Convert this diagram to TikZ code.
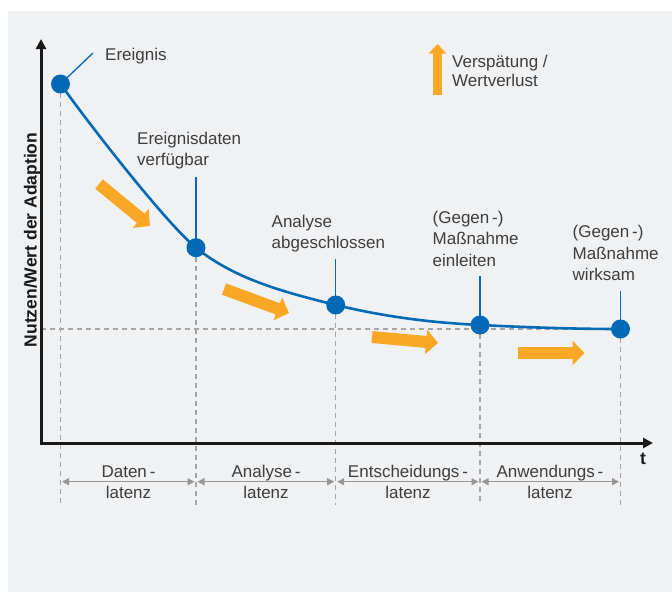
\documentclass[tikz,border=0pt]{standalone}
\usepackage{fontspec}
\setmainfont{Liberation Sans}
\usetikzlibrary{arrows.meta}
\definecolor{bg}{RGB}{240,241,243}
\definecolor{myblue}{RGB}{0,106,183}
\definecolor{myorange}{RGB}{249,168,38}
\definecolor{txt}{RGB}{62,62,62}
\definecolor{dgray}{RGB}{165,165,165}
\definecolor{bgray}{RGB}{150,150,150}
\begin{document}
\begin{tikzpicture}[x=1pt,y=-1pt,
  lbl/.style={font=\fontsize{17}{21.6}\selectfont, text=txt, align=left, inner sep=0pt, anchor=base west},
  clbl/.style={font=\fontsize{17}{21.6}\selectfont, text=txt, align=center, inner sep=0pt, anchor=base},
  dashline/.style={draw=dgray, line width=1.1pt, dash pattern=on 5pt off 4pt},
  curve/.style={draw=myblue, line width=2.6pt},
  leader/.style={draw=myblue, line width=1.3pt},
  dot/.style={circle, fill=myblue, inner sep=0pt, minimum size=19pt},
  oarrow/.style={draw=myorange, line width=12pt, -{Triangle[length=12pt,width=24pt]}},
  axisline/.style={draw=black!90, line width=3pt, line join=miter, {Triangle[length=10pt,width=10pt]}-{Triangle[length=10pt,width=10pt]}},
  bracket/.style={draw=bgray, line width=1.5pt, {Triangle[length=7pt,width=7pt]}-{Triangle[length=7pt,width=7pt]}, shorten <=1.5pt, shorten >=1.5pt},
  boldlbl/.style={font=\bfseries\fontsize{17.5}{20}\selectfont, text=black!90, inner sep=0pt}
]
\fill[white] (0,0) rectangle (672,592);
\useasboundingbox (0,0) rectangle (672,592);
\fill[bg] (8,11) rectangle (672,592);

% points
\coordinate (p1) at (60.5,84);
\coordinate (p2) at (196,247.7);
\coordinate (p3) at (335.7,305);
\coordinate (p4) at (480,325);
\coordinate (p5) at (620.5,329);
% bottom ends of dashed lines
\coordinate (b1) at (60.5,505);
\coordinate (b2) at (196,505);
\coordinate (b3) at (335.7,505);
\coordinate (b4) at (480,505);
\coordinate (b5) at (620.5,505);
% horizontal reference
\coordinate (h0) at (41,329);
% axes
\coordinate (o) at (41,443);
\coordinate (ytip) at (41,39);
\coordinate (xtip) at (653,443);

% dashed lines
\draw[dashline] (p1) -- (b1);
\draw[dashline] (p2) -- (b2);
\draw[dashline] (p3) -- (b3);
\draw[dashline] (p4) -- (b4);
\draw[dashline] (p5) -- (b5);
\draw[dashline] (h0) -- (p5);

% axes
\draw[axisline] (ytip) -- (o) -- (xtip);
\node[boldlbl, rotate=90] (ylab) at (32,240) {Nutzen/Wert der Adaption};
\node[boldlbl] (tlab) at (643,458.5) {t};

% leader lines
\coordinate (e1) at (93,53);
\coordinate (e2) at (196,177);
\coordinate (e3) at (335.7,259);
\coordinate (e4) at (480,276);
\coordinate (e5) at (620.5,291);
\draw[leader] (p1) -- (e1);
\draw[leader] (p2) -- (e2);
\draw[leader] (p3) -- (e3);
\draw[leader] (p4) -- (e4);
\draw[leader] (p5) -- (e5);

% curve
\draw[curve] (p1) .. controls (95,132) and (168,225) .. (p2)
  .. controls (236,280) and (286,292.5) .. (p3)
  .. controls (386,317) and (430,322.5) .. (p4)
  .. controls (530,327.5) and (575,329) .. (p5);

% dots
\node[dot] (d1) at (p1) {};
\node[dot] (d2) at (p2) {};
\node[dot] (d3) at (p3) {};
\node[dot] (d4) at (p4) {};
\node[dot] (d5) at (p5) {};

% labels (anchor = baseline of the last line)
\node[lbl] (l1) at (105,60) {Ereignis};
\node[lbl] (l2) at (137,165.6) {Ereignisdaten\\verfügbar};
\node[lbl] (l3) at (271.5,248.6) {Analyse\\abgeschlossen};
\node[lbl] (l4) at (432.5,266.2) {(Gegen\,-)\\Maßnahme\\einleiten};
\node[lbl] (l5) at (572.5,280.7) {(Gegen\,-)\\Maßnahme\\wirksam};

% orange arrows
\coordinate (a1s) at (99,184);
\coordinate (a1e) at (150,226);
\coordinate (a2s) at (224,289);
\coordinate (a2e) at (289,313);
\coordinate (a3s) at (372,337);
\coordinate (a3e) at (438,343);
\coordinate (a4s) at (517.5,353);
\coordinate (a4e) at (584.5,353);
\draw[oarrow] (a1s) -- (a1e);
\draw[oarrow] (a2s) -- (a2e);
\draw[oarrow] (a3s) -- (a3e);
\draw[oarrow] (a4s) -- (a4e);

% legend
\coordinate (gs) at (437.5,94.5);
\coordinate (ge) at (437.5,44);
\draw[draw=myorange, line width=9pt, -{Triangle[length=9.5pt,width=17pt]}] (gs) -- (ge);
\node[lbl, font=\fontsize{17}{19}\selectfont] (leg) at (452,86.3) {Verspätung /\\Wertverlust};

% latency brackets
\coordinate (c1) at (60.5,481.7);
\coordinate (c2) at (196,481.7);
\coordinate (c3) at (335.7,481.7);
\coordinate (c4) at (480,481.7);
\coordinate (c5) at (620.5,481.7);
\draw[bracket] (c1) -- (c2);
\draw[bracket] (c2) -- (c3);
\draw[bracket] (c3) -- (c4);
\draw[bracket] (c4) -- (c5);
\node[clbl] (k1) at (128.5,498.9) {Daten\,-\\latenz};
\node[clbl] (k2) at (266,498.9) {Analyse\,-\\latenz};
\node[clbl] (k3) at (408,498.9) {Entscheidungs\,-\\latenz};
\node[clbl] (k4) at (550,498.9) {Anwendungs\,-\\latenz};
\end{tikzpicture}
\end{document}
